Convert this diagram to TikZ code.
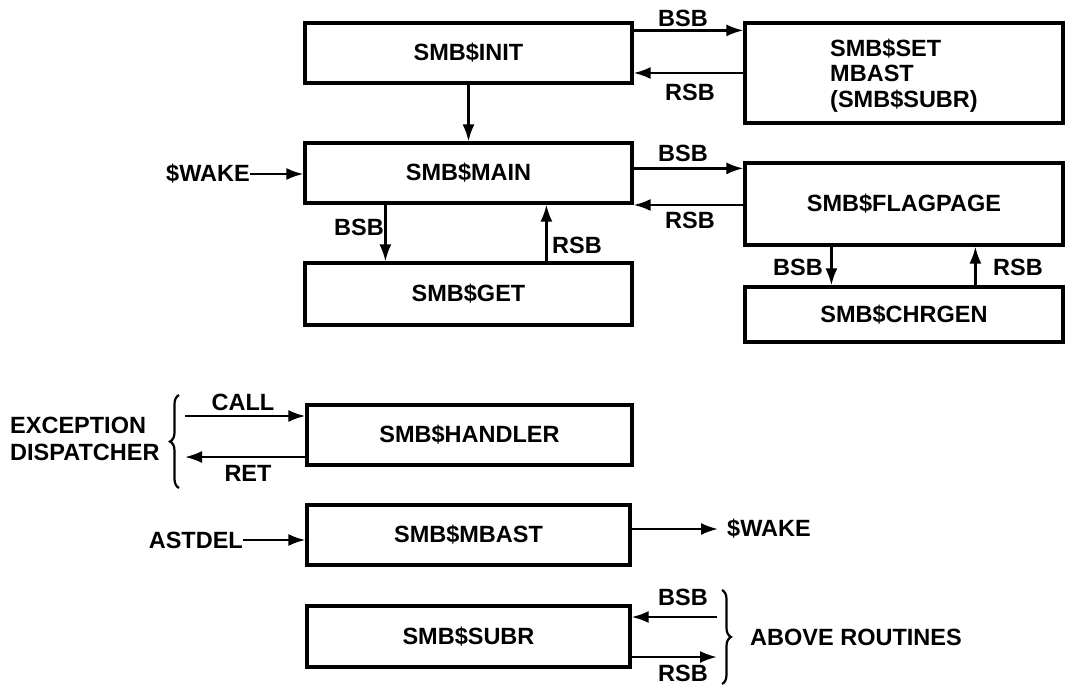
\documentclass[tikz,border=0pt]{standalone}
\usepackage{fontspec}
\setmainfont{Liberation Sans}
\usetikzlibrary{arrows.meta,calc,decorations.pathreplacing}
\begin{document}
\begin{tikzpicture}[x=1pt,y=-1pt,
  every node/.style={font=\fontsize{23.5}{25.5}\selectfont\bfseries, inner sep=0pt},
  box/.style={draw, line width=3.2pt, rectangle, minimum width=#1, align=center},
  arr/.style={line width=2.4pt, -{Latex[length=17pt,width=12pt]}},
  brc/.style={line width=2.2pt, decorate, decoration={brace, amplitude=9pt}}]
\useasboundingbox (0,0) rectangle (1066,686);
% boxes
\node[box=327pt, minimum height=60pt] (init) at (468.5,53) {SMB\$INIT};
\node[box=318pt, minimum height=100pt, align=left, text depth=-4pt] (set) at (904,73) {SMB\$SET\\MBAST\\(SMB\$SUBR)};
\node[box=327pt, minimum height=60pt] (main) at (468.5,173) {SMB\$MAIN};
\node[box=318pt, minimum height=82pt] (flag) at (904,204) {SMB\$FLAGPAGE};
\node[box=327pt, minimum height=62pt] (get) at (468.5,294) {SMB\$GET};
\node[box=318pt, minimum height=55pt] (chr) at (904,314.5) {SMB\$CHRGEN};
\node[box=325pt, minimum height=60pt] (hand) at (469.5,435) {SMB\$HANDLER};
\node[box=323pt, minimum height=60pt] (mbast) at (468.5,535) {SMB\$MBAST};
\node[box=323pt, minimum height=61pt] (subr) at (468.5,636.5) {SMB\$SUBR};
% free texts
\node[anchor=east] (wake1) at (250,174) {\$WAKE};
\node[anchor=east] (astdel) at (243,540) {ASTDEL};
\node[anchor=west] (wake2) at (727,529) {\$WAKE};
\node[anchor=west, align=left, font=\fontsize{23.5}{27}\selectfont\bfseries] (exc) at (10,438.5) {EXCEPTION\\DISPATCHER};
\node[anchor=west] (above) at (750,637) {ABOVE ROUTINES};
% coordinates
\coordinate (ib) at ($(init.north east)+(0,9)$);
\coordinate (fb) at ($(flag.north west)+(0,7)$);
\coordinate (gb) at ($(get.north west)+(82,0)$);
\coordinate (gr) at ($(get.north west)+(243,0)$);
\coordinate (cb) at ($(chr.north west)+(88,0)$);
\coordinate (cr) at ($(chr.north west)+(232,0)$);
\coordinate (dcall) at (185,416);
\coordinate (dret) at (185,457);
\coordinate (sb) at (717,617);
\coordinate (sr) at (717,657);
% connectors
\draw[arr] (init.south) -- (main.north);
\draw[arr] (ib) -- (ib -| set.west);
\draw[arr] (set.west) -- (set.west -| init.east);
\draw[arr] (fb -| main.east) -- (fb);
\draw[arr] ($(flag.west)+(0,1)$) -- ($(flag.west -| main.east)+(0,1)$);
\draw[arr] (gb |- main.south) -- (gb);
\draw[arr] (gr) -- (gr |- main.south);
\draw[arr] (cb |- flag.south) -- (cb);
\draw[arr] (cr) -- (cr |- flag.south);
\draw[arr] (wake1.east) -- (wake1.east -| main.west);
\draw[arr] (dcall) -- (dcall -| hand.west);
\draw[arr] (dret -| hand.west) -- (dret);
\draw[arr] (astdel.east) -- (astdel.east -| mbast.west);
\draw[arr] (wake2.west -| mbast.east) -- ($(wake2.west)+(-9,0)$);
\draw[arr] (sb) -- (sb -| subr.east);
\draw[arr] (sr -| subr.east) -- (sr);
% braces
\draw[brc] (179,488) -- (179,395);
\draw[brc] (722,590) -- (722,684);
% labels
\node (l1) at (683,18) {BSB};
\node (l2) at (690,92) {RSB};
\node (l3) at (683,153) {BSB};
\node (l4) at (690,220) {RSB};
\node (l5) at (359,227) {BSB};
\node (l6) at (577,245) {RSB};
\node (l7) at (798,267) {BSB};
\node (l8) at (1018,267) {RSB};
\node (l9) at (243,402) {CALL};
\node (l10) at (248,473) {RET};
\node (l11) at (683,597) {BSB};
\node (l12) at (683,673) {RSB};
\end{tikzpicture}
\end{document}
